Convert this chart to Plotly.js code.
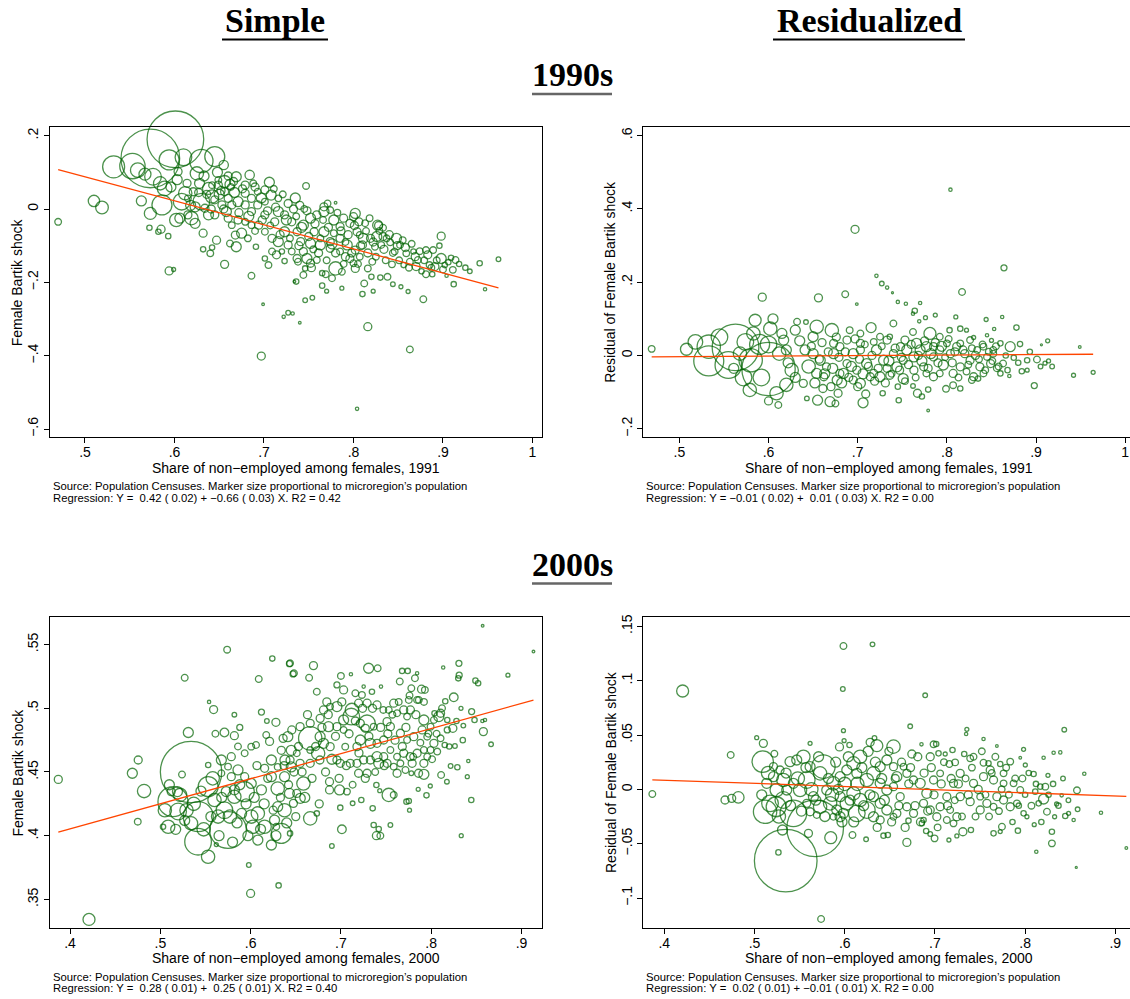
<!DOCTYPE html>
<html>
<head>
<meta charset="utf-8">
<script src="https://cdn.plot.ly/plotly-3.0.1.min.js"></script>
<style>
  html, body { margin: 0; padding: 0; background: #ffffff; overflow: hidden; }
  #chart { width: 1140px; height: 999px; }
</style>
</head>
<body>
<div id="chart"></div>
<script>
// ---------------- DATA ----------------
// Panel 1: Simple, 1990s  (x = share non-employed 1991, y = female Bartik shock, pop = microregion population, thousands)
const simple90X = [
  0.470,0.510,0.519,0.532,0.553,0.573,0.601,0.594,0.610,0.630,
  0.645,0.655,0.559,0.567,0.576,0.584,0.589,0.604,0.625,0.628,
  0.638,0.642,0.630,0.612,0.608,0.602,0.586,0.573,0.563,0.572,
  0.582,0.585,0.593,0.594,0.599,0.619,0.623,0.632,0.632,0.640,
  0.642,0.647,0.656,0.662,0.669,0.668,0.675,0.682,0.686,0.691,
  0.699,0.697,0.701,0.705,0.709,0.714,0.722,0.727,0.732,0.734,
  0.723,
  0.656,0.662,0.649,0.669,0.684,0.679,0.693,0.706,0.708,0.716,
  0.723,0.731,0.712,0.701,0.686,0.679,0.671,0.664,0.658,0.653,
  0.645,0.638,0.634,0.623,0.615,0.606,0.621,0.615,0.645,0.660,
  0.679,0.686,0.693,0.701,0.716,0.727,0.723,0.716,0.709,0.701,
  0.694,0.686,0.679,0.671,0.664,0.727,0.731,0.720,0.656,0.663,
  0.688,0.701,0.642,0.649,
  0.747,0.780,0.767,0.771,0.774,0.802,0.800,0.796,0.806,0.813,
  0.828,0.833,0.837,0.841,0.824,0.831,0.848,0.852,0.846,0.859,
  0.867,0.872,0.863,0.856,0.870,0.881,0.889,0.898,0.898,0.891,
  0.885,0.881,0.888,0.902,0.911,0.909,0.914,0.912,0.904,0.941,
  0.947,0.962,0.878,0.861,0.853,0.844,0.822,0.810,0.816,0.863,
  0.804,0.787,0.770,0.765,0.754,0.746,0.740,0.736,0.738,0.744,
  0.746,0.753,0.752,0.759,0.765,0.769,0.776,0.780,0.787,0.791,
  0.800,0.802,0.812,0.816,0.821,0.820,0.830,0.838,0.843,0.827,
  0.767,0.752,0.744,0.737,0.756,0.767,0.778,0.785,0.774,0.763,
  0.752,0.741,0.744,0.774,0.793,0.802,0.810,0.785,0.796,0.807,
  0.748,0.737,0.759,0.778,0.785,0.789,0.804,0.811,0.819,0.826,
  0.833,0.807,0.735,0.740,0.745,
  0.650,0.655,0.660,0.667,0.672,0.676,0.683,0.690,0.690,0.697,
  0.698,0.704,0.707,0.711,0.713,0.718,0.721,0.725,0.729,0.733,
  0.736,0.739,0.742,0.748,0.750,0.755,0.757,0.761,0.763,0.766,
  0.770,0.772,0.776,0.780,0.782,0.786,0.789,0.791,0.794,0.798,
  0.801,0.805,0.808,0.814,0.816,0.818,0.822,0.825,0.829,0.834,
  0.836,0.840,0.844,0.849,0.851,0.855,0.858,0.862,0.865,0.869,
  0.874,0.876,0.879,0.883,0.887,0.893,0.896,0.900,0.906,0.918,
  0.925,0.930,
  0.596,0.603,0.614,0.618,0.627,0.633,0.636,0.641,0.648,0.652,0.660,0.666
];
const simple90Y = [
  -0.035,0.022,0.004,0.115,0.117,0.138,0.190,0.134,0.141,0.131,
  0.143,0.120,0.106,0.095,0.088,0.070,0.056,0.102,0.097,0.070,
  0.056,0.034,0.020,0.043,0.020,-0.030,0.011,-0.012,0.022,-0.051,
  -0.062,-0.055,-0.074,-0.169,-0.165,-0.025,-0.039,-0.066,-0.110,-0.121,
  -0.105,-0.085,-0.151,-0.094,-0.103,-0.071,-0.066,-0.080,-0.182,-0.103,
  -0.260,-0.401,-0.135,-0.153,-0.116,-0.125,-0.294,-0.283,-0.285,-0.198,
  -0.142,
  0.075,0.067,0.065,0.088,0.093,0.065,0.047,0.073,0.038,-0.007,
  -0.016,-0.035,-0.035,-0.016,-0.007,0.011,0.020,0.011,-0.007,0.011,
  -0.016,-0.016,0.002,0.006,-0.016,-0.025,0.047,0.029,0.025,0.029,
  0.043,0.029,0.011,0.020,0.029,0.015,-0.062,-0.089,-0.080,-0.062,
  -0.044,-0.044,-0.035,-0.030,-0.044,-0.098,-0.116,-0.116,0.047,0.060,
  0.070,0.052,0.065,0.079,
  0.063,0.017,0.006,0.015,-0.003,-0.012,-0.021,-0.039,-0.035,-0.039,
  -0.045,-0.051,-0.080,-0.091,-0.103,-0.098,-0.080,-0.098,-0.116,-0.121,
  -0.116,-0.139,-0.144,-0.153,-0.157,-0.112,-0.112,-0.074,-0.135,-0.157,
  -0.153,-0.178,-0.178,-0.153,-0.166,-0.133,-0.139,-0.205,-0.182,-0.148,
  -0.219,-0.137,-0.246,-0.225,-0.212,-0.205,-0.224,-0.232,-0.321,-0.383,
  -0.545,-0.216,-0.224,-0.209,-0.242,-0.249,-0.310,-0.198,-0.144,-0.180,
  -0.162,-0.160,-0.148,-0.139,-0.175,-0.178,-0.189,-0.162,-0.171,-0.130,
  -0.148,-0.162,-0.203,-0.162,-0.144,-0.185,-0.187,-0.185,-0.151,-0.044,
  -0.007,-0.025,-0.044,-0.062,-0.062,-0.062,-0.066,-0.080,-0.089,-0.098,
  -0.094,-0.089,-0.116,-0.107,-0.098,-0.112,-0.098,-0.116,-0.135,-0.130,
  -0.135,-0.135,-0.016,-0.030,-0.048,-0.025,-0.062,-0.080,-0.080,-0.075,
  -0.075,-0.071,0.030,0.010,0.000,
  0.040,0.000,-0.025,0.045,-0.010,0.055,-0.020,0.060,-0.060,0.030,
  -0.030,-0.005,-0.045,0.055,0.005,-0.070,0.040,-0.030,-0.080,0.000,
  -0.020,-0.100,-0.050,-0.005,-0.075,-0.110,-0.040,-0.120,-0.080,-0.030,
  -0.140,-0.050,-0.095,-0.120,-0.010,-0.060,-0.150,-0.090,-0.070,-0.120,
  -0.045,-0.150,-0.100,-0.060,-0.120,-0.025,-0.090,-0.130,-0.060,-0.110,
  -0.140,-0.070,-0.120,-0.100,-0.140,-0.085,-0.105,-0.160,-0.095,-0.130,
  -0.115,-0.170,-0.140,-0.125,-0.160,-0.140,-0.100,-0.165,-0.145,-0.150,
  -0.160,-0.170,
  0.060,0.080,0.070,0.010,0.045,0.090,0.040,0.000,0.100,0.050,0.090,0.075
];
const simple90Pop = [
  200,578,722,2178,2888,15488,14450,1800,1250,2450,
  1800,392,968,648,1250,800,968,288,800,450,
  648,800,1250,800,1250,800,1800,648,450,128,
  128,288,128,288,72,800,450,288,128,200,
  128,288,288,200,450,288,450,200,200,128,
  32,288,128,200,200,288,50,98,50,32,
  128,
  648,450,288,450,392,288,200,450,450,450,
  288,288,288,288,288,288,450,288,450,288,
  288,450,288,450,288,450,288,200,288,288,
  288,288,288,200,200,288,450,450,288,200,
  288,200,200,288,200,288,200,128,288,200,
  200,288,200,200,
  200,32,288,200,200,450,288,288,288,200,
  288,200,200,200,200,200,450,200,200,200,
  128,200,200,128,288,200,200,288,450,288,
  200,200,128,128,200,128,200,128,50,128,
  50,98,200,72,72,98,72,128,288,200,
  50,72,72,128,98,98,32,128,200,200,
  128,288,288,200,128,200,200,800,200,288,
  200,288,200,200,200,128,128,200,200,450,
  450,450,450,288,288,450,200,288,288,450,
  450,288,288,288,450,288,288,200,288,200,
  450,288,288,450,288,288,288,450,288,450,
  288,200,450,288,200,
  450,288,288,450,288,288,450,288,200,450,
  288,288,200,200,288,288,200,450,200,288,
  200,288,450,288,288,200,288,288,200,200,
  200,288,450,288,200,288,200,200,288,288,
  288,200,288,200,288,200,288,200,200,288,
  200,288,200,288,200,200,288,200,200,288,
  200,128,200,288,200,200,128,200,128,128,
  128,98,
  450,450,288,450,288,450,288,288,450,288,288,288
];

// Panel 2: Residualized, 1990s
const resid90X = [
  0.804,0.697,0.864,0.721,0.727,0.733,0.739,0.817,0.686,0.656,
  0.593,0.699,0.745,0.754,0.770,0.764,0.762,0.776,0.769,0.787,
  0.810,0.844,0.862,0.853,0.878,0.850,0.845,0.906,0.913,0.949,
  0.942,0.964,0.898,0.914,0.910,0.901,0.890,0.884,0.870,0.860,
  0.890,0.875,0.871,0.860,0.882,0.830,0.469,0.508,0.518,0.533,
  0.533,0.563,0.600,0.555,0.580,0.585,0.602,0.583,0.574,0.568,
  0.561,0.579,0.600,0.611,0.609,0.626,0.620,0.617,0.630,0.632,
  0.642,0.654,0.671,0.650,0.641,0.639,0.643,0.655,0.661,0.669,
  0.675,0.678,0.706,0.709,0.728,0.746,0.745,0.751,0.762,0.767,
  0.772,0.779,0.779,0.799,0.807,0.815,0.828,0.835,0.691,0.715,
  0.703,0.725,0.740,0.736,0.753,0.762,0.781,0.792,0.803,0.815,
  0.822,0.650,0.658,0.665,0.673,0.680,0.684,0.688,0.695,0.699,
  0.703,0.710,0.718,0.721,0.729,0.733,0.740,0.744,0.751,0.755,
  0.763,0.770,0.774,0.777,0.785,0.792,0.796,0.804,0.811,0.815,
  0.820,0.826,0.834,0.837,0.845,0.849,0.852,0.856,0.863,0.654,
  0.662,0.677,0.680,0.695,0.703,0.714,0.725,0.736,0.763,0.777,
  0.785,0.792,0.807,0.822,0.830,0.841,0.673,0.688,0.703,0.718,
  0.733,0.748,0.766,0.785,0.800,0.815,0.826,0.841,0.852,
  0.600,0.612,0.622,0.630,0.635,0.645,0.648,0.652,0.657,0.660,
  0.663,0.667,0.670,0.672,0.676,0.679,0.682,0.686,0.690,0.693,
  0.697,0.700,0.702,0.706,0.708,0.712,0.716,0.719,0.723,0.727,
  0.731,0.735,0.738,0.742,0.747,0.749,0.753,0.757,0.760,0.765,
  0.768,0.772,0.775,0.779,0.782,0.787,0.790,0.794,0.798,0.802,
  0.806,0.809,0.813,0.818,0.824,0.828,0.832,0.836,0.840,0.843,
  0.847,0.851,0.855,0.858,0.866,0.868,0.880,0.893,0.905,0.918,
  0.545,0.590,0.592,0.572,0.620,0.615,0.605
];
const resid90Y = [
  0.452,0.344,0.239,0.217,0.196,0.185,0.171,0.173,0.167,0.157,
  0.159,0.140,0.146,0.141,0.143,0.122,0.114,0.103,0.093,0.110,
  0.105,0.098,0.105,0.072,0.076,0.041,0.055,0.029,0.040,0.023,
  -0.054,-0.046,-0.082,-0.015,-0.021,-0.011,-0.013,-0.043,-0.056,-0.049,
  -0.040,-0.006,0.024,0.033,0.031,0.049,0.018,0.017,0.037,0.024,
  -0.015,0.022,-0.037,-0.026,-0.013,0.096,0.073,0.060,0.037,0.005,
  -0.035,-0.094,-0.124,-0.135,-0.103,-0.040,0.015,0.042,0.069,0.092,
  0.091,0.078,0.069,0.051,0.015,-0.076,-0.117,-0.122,-0.090,-0.126,
  -0.131,-0.103,-0.129,-0.105,-0.103,-0.122,-0.085,-0.063,-0.083,-0.103,
  -0.112,-0.093,-0.150,-0.091,-0.081,-0.090,-0.067,-0.063,0.069,0.076,
  0.060,0.051,0.087,0.051,0.042,0.064,0.060,0.051,0.069,0.073,
  0.069,0.005,-0.013,-0.031,0.005,0.024,-0.049,-0.022,0.005,-0.040,
  0.015,-0.022,-0.049,0.015,-0.013,-0.035,0.005,-0.031,-0.013,0.015,
  -0.004,0.015,-0.031,0.024,-0.004,0.015,-0.026,0.005,0.024,-0.031,
  0.005,-0.013,0.015,-0.031,-0.004,-0.022,0.005,-0.035,-0.022,-0.049,
  -0.058,-0.067,-0.049,-0.067,-0.076,-0.058,-0.058,-0.054,-0.040,-0.049,
  -0.058,-0.049,-0.049,-0.044,-0.058,-0.049,0.033,0.042,0.033,0.037,
  0.042,0.024,0.033,0.024,0.033,0.033,0.042,0.024,0.015,
  0.030,0.005,-0.020,-0.060,0.040,-0.030,0.025,-0.075,-0.010,0.035,
  -0.050,0.010,-0.085,-0.035,0.050,-0.005,-0.075,0.010,-0.060,-0.030,
  0.045,-0.085,-0.010,-0.050,0.030,-0.030,0.000,-0.070,-0.035,0.025,
  -0.075,-0.015,-0.050,0.020,-0.040,-0.005,-0.070,-0.025,0.030,-0.060,
  0.000,-0.015,0.040,-0.035,0.005,0.035,-0.020,0.025,-0.005,0.045,
  -0.020,0.010,-0.060,0.015,-0.025,0.020,0.000,-0.010,0.030,-0.040,
  0.010,-0.015,0.025,-0.030,0.000,-0.040,-0.020,0.010,-0.030,-0.030,
  0.050,0.030,-0.060,-0.060,-0.080,0.060,0.100
];
const resid90Pop = [
  50,288,162,50,98,50,18,200,200,288,
  288,32,50,50,50,128,50,72,50,72,
  72,72,50,50,128,72,50,18,72,32,
  72,72,162,72,72,200,128,128,50,128,
  72,128,450,128,128,72,200,648,968,2450,
  4050,9800,12800,3200,2450,648,800,800,1250,800,
  450,800,288,200,800,800,450,450,450,200,
  98,800,800,450,450,288,98,450,288,450,
  200,288,450,288,128,128,128,450,98,288,
  128,128,32,200,200,128,200,128,200,450,
  200,200,200,128,288,200,648,200,128,128,
  72,450,450,288,450,288,450,288,450,288,
  288,450,288,450,450,288,288,450,288,450,
  450,450,288,450,288,288,450,288,288,288,
  288,288,200,288,200,288,200,200,200,450,
  288,450,288,288,450,288,450,288,288,200,
  288,200,288,200,288,200,288,288,288,200,
  288,288,450,288,200,200,200,200,200,
  1250,800,450,450,450,800,288,450,288,288,
  450,288,288,450,288,288,450,288,288,450,
  288,288,288,450,200,288,288,288,288,200,
  288,450,200,288,288,288,200,288,288,200,
  288,450,288,288,450,288,288,450,200,200,
  288,288,200,288,200,200,288,200,200,200,
  200,200,200,200,128,128,128,128,98,98,
  1250,1800,1250,1250,800,450,450
];

// Panel 3: Simple, 2000s
const simple00X = [
  0.387,0.421,0.469,0.4755,0.482,0.475,0.527,0.574,0.554,0.559,
  0.531,0.561,0.571,0.582,0.588,0.582,0.609,0.612,0.624,0.618,
  0.628,0.643,0.647,0.534,0.524,0.553,0.514,0.519,0.512,0.553,
  0.560,0.542,0.5418,0.575,0.5529,0.562,0.598,0.600,0.631,0.5087,
  0.503,0.5197,0.529,0.534,0.564,0.571,0.582,0.593,0.590,0.6007,
  0.608,0.6026,0.608,0.623,0.6155,0.6265,0.634,0.6376,0.630,0.6007,
  0.612,0.623,0.630,0.6376,0.643,0.645,0.630,0.623,0.638,0.645,
  0.634,0.6412,0.636,0.621,0.6173,0.6007,0.606,0.5934,0.586,0.5786,
  0.5676,0.575,0.586,0.5934,0.5786,0.5676,0.6155,0.6284,0.573,0.582,
  0.857,0.9133,0.885,0.8307,0.831,0.830,0.849,0.852,0.8133,0.825,
  0.8156,0.833,0.8448,0.848,0.8567,0.8596,0.8578,0.8663,0.8356,0.824,
  0.8178,0.8263,0.815,0.8215,0.829,0.8411,0.840,0.811,0.8174,0.8444,
  0.8333,0.799,0.7948,0.7856,0.7919,0.786,0.778,0.776,0.7726,0.7752,
  0.7548,0.7585,0.753,0.7393,0.743,0.7363,0.7419,0.7393,0.7437,0.7352,
  0.7226,0.713,0.7011,0.690,0.6993,0.7067,0.6985,0.6874,0.6874,0.666,
  0.6733,0.6585,0.655,0.6511,0.6474,0.6437,0.6696,0.648,0.6437,0.6648,
  0.6733,0.700,0.703,0.7111,0.7307,0.7407,0.6956,0.716,0.7233,0.7252,
  0.7344,0.7444,0.7678,0.774,0.782,0.7844,0.7652,0.7893,0.793,0.778,
  0.7844,0.7863,0.7752,0.7585,0.753,0.740,0.729,0.7196,0.7122,0.7115,
  0.703,0.6956,0.688,0.6844,0.6807,0.677,0.666,0.6548,0.6456,0.6863,
  0.6956,0.703,0.666,0.677,0.6807,0.6881,0.6748,0.6767,0.666,0.6548,
  0.6511,0.6437,0.6956,0.6993,0.7048,0.7178,0.7215,0.7289,0.7215,0.727,
  0.7363,0.7326,0.740,0.7474,0.7511,0.7548,0.7622,0.7696,0.7733,0.777,
  0.7659,0.7733,0.7807,0.790,0.7919,0.7993,0.803,0.7956,0.803,0.8067,
  0.7993,0.7919,0.7844,0.7767,0.7696,0.7622,0.7548,0.7474,0.740,0.7326,
  0.7252,0.7178,0.7104,0.7196,0.729,0.7419,0.7511,0.7585,0.7659,0.7622,
  0.7715,0.7789,0.7919,0.7956,0.8104,0.8178,0.8037,0.8085,0.8104,0.747,
  0.666,
  0.505,0.510,0.517,0.522,0.527,0.537,0.545,0.548,0.556,0.558,
  0.565,0.568,0.577,0.580,0.585,0.588,0.595,0.597,0.604,0.607,
  0.611,0.615,0.619,0.625,0.628,0.633,0.637,0.640,0.642,0.648,
  0.650,0.653,0.657,0.660,0.663,0.668,0.672,0.676,0.679,0.683,
  0.686,0.690,0.694,0.698,0.701,0.706,0.709,0.713,0.716,0.720,
  0.724,0.727,0.731,0.735,0.738,0.744,0.748,0.752,0.757,0.760,
  0.764,0.768,0.772,0.776,0.780,0.783,0.788,0.792,0.797,0.801,
  0.806,0.812,0.820,0.828,0.835
];
const simple00Y = [
  0.4442,0.3343,0.449,0.4594,0.435,0.411,0.524,0.546,0.505,0.499,
  0.481,0.480,0.481,0.495,0.485,0.4785,0.523,0.497,0.539,0.490,
  0.489,0.535,0.527,0.450,0.448,0.4555,0.4267,0.4346,0.4346,0.4385,
  0.428,0.415,0.3953,0.4045,0.3835,0.393,0.377,0.3547,0.361,0.407,
  0.407,0.419,0.420,0.4097,0.415,0.420,0.4306,0.4346,0.4175,0.415,
  0.4175,0.407,0.3966,0.3927,0.407,0.4123,0.4018,0.420,0.4228,0.441,
  0.436,0.4463,0.437,0.4463,0.4332,0.454,0.454,0.4594,0.4594,0.467,
  0.467,0.4777,0.4764,0.474,0.479,0.4699,0.4712,0.4647,0.470,0.462,
  0.4594,0.4542,0.4516,0.4463,0.4463,0.449,0.4529,0.407,0.4346,0.436,
  0.5647,0.5445,0.526,0.5353,0.526,0.5235,0.5217,0.5196,0.532,0.5086,
  0.5055,0.500,0.4974,0.4908,0.490,0.4908,0.4817,0.4717,0.4864,0.4843,
  0.483,0.4704,0.4712,0.4547,0.4537,0.4586,0.4463,0.4476,0.4424,0.428,
  0.400,0.439,0.4317,0.4364,0.4482,0.449,0.449,0.420,0.4267,0.4272,
  0.4084,0.432,0.432,0.4398,0.4353,0.4084,0.4052,0.400,0.400,0.4215,
  0.428,0.4254,0.405,0.3919,0.422,0.4346,0.4359,0.4359,0.4424,0.4136,
  0.4175,0.441,0.4293,0.4332,0.4254,0.4018,0.5335,0.5275,0.5353,0.524,
  0.513,0.5254,0.5144,0.5267,0.5314,0.5314,0.5183,0.5118,0.5105,0.517,
  0.513,0.517,0.5293,0.5293,0.5236,0.5275,0.521,0.515,0.5144,0.5157,
  0.5065,0.5065,0.5065,0.504,0.4987,0.5026,0.504,0.504,0.4987,0.4935,
  0.4908,0.5013,0.5013,0.505,0.4987,0.4921,0.4882,0.4856,0.483,0.4856,
  0.4856,0.483,0.4764,0.4777,0.4725,0.4699,0.4647,0.4594,0.4568,0.4568,
  0.4647,0.4594,0.4594,0.4568,0.4699,0.4699,0.4751,0.4882,0.4882,0.4843,
  0.4856,0.4725,0.4725,0.4751,0.4895,0.4856,0.4961,0.4987,0.4935,0.4987,
  0.4804,0.4751,0.4777,0.483,0.4908,0.4856,0.4908,0.4777,0.4725,0.466,
  0.4673,0.4673,0.4647,0.462,0.4647,0.462,0.4673,0.462,0.462,0.4594,
  0.4594,0.4568,0.4568,0.449,0.449,0.4568,0.4568,0.4542,0.4568,0.449,
  0.4516,0.4568,0.4568,0.462,0.4764,0.4908,0.4961,0.4935,0.4961,0.4987,
  0.4672,
  0.420,0.440,0.405,0.432,0.412,0.425,0.435,0.405,0.415,0.445,
  0.400,0.430,0.415,0.395,0.410,0.440,0.425,0.400,0.430,0.455,
  0.405,0.425,0.445,0.420,0.400,0.430,0.455,0.410,0.440,0.450,
  0.415,0.470,0.450,0.430,0.495,0.445,0.470,0.425,0.485,0.450,
  0.495,0.460,0.478,0.445,0.505,0.455,0.480,0.440,0.490,0.465,
  0.500,0.445,0.478,0.500,0.450,0.485,0.455,0.480,0.495,0.475,
  0.505,0.470,0.485,0.510,0.462,0.495,0.473,0.505,0.480,0.460,
  0.480,0.500,0.470,0.490,0.475
];
const simple00Pop = [
  288,648,450,288,800,200,200,200,50,288,
  450,200,338,98,162,288,200,162,128,98,
  288,162,162,16928,200,128,4050,450,288,1800,
  800,4050,3200,6050,800,72,98,288,128,800,
  128,1250,800,800,800,1250,800,1800,450,800,
  800,800,450,450,800,450,1800,800,450,450,
  450,450,800,450,450,450,200,450,450,450,
  288,450,288,288,200,200,200,200,200,288,
  450,200,450,288,288,200,288,200,450,450,
  32,32,72,162,162,128,128,128,50,338,
  128,72,162,128,50,50,288,98,98,288,
  162,98,128,98,128,50,72,200,98,128,
  72,72,128,72,450,288,98,72,128,128,
  98,200,800,128,72,128,128,288,200,128,
  128,98,338,98,128,200,450,288,288,800,
  128,800,450,288,288,128,288,200,200,200,
  200,200,288,50,450,200,162,200,200,50,
  128,50,128,128,200,50,200,288,200,200,
  200,200,200,288,200,288,288,288,800,1250,
  450,450,200,288,288,288,288,288,288,450,
  288,200,2450,450,450,288,800,288,288,288,
  200,288,288,288,200,288,450,1250,288,288,
  200,450,288,288,288,288,200,288,200,288,
  288,200,288,288,450,200,200,200,288,200,
  200,200,288,288,288,200,200,288,450,288,
  288,288,288,288,288,450,288,200,200,288,
  200,288,288,200,200,128,128,450,288,200,
  200,
  800,450,450,800,450,800,450,800,450,800,
  450,450,800,450,450,450,450,450,450,288,
  450,450,288,288,450,288,288,450,288,288,
  288,288,288,450,288,288,288,288,288,288,
  288,450,288,288,288,288,288,200,288,288,
  288,288,288,288,200,288,288,288,200,288,
  200,288,288,200,200,288,200,200,200,200,
  200,200,128,128,128
];

// Panel 4: Residualized, 2000s
const resid00X = [
  0.3867,0.4203,0.4673,0.4747,0.4821,0.4736,0.5024,0.5098,0.522,0.5616,
  0.5091,0.521,0.5135,0.5117,0.5172,0.524,0.532,0.5431,0.532,0.5394,
  0.5468,0.5542,0.5616,0.5764,0.5727,0.5579,0.5672,0.5346,0.531,0.5265,
  0.5598,0.5845,0.5738,0.5986,0.6308,0.5979,0.6892,0.5986,0.5993,0.6726,
  0.7354,0.7346,0.8434,0.7539,0.7687,0.7983,0.8316,0.839,0.8205,0.8656,
  0.8575,0.8841,0.9122,0.8567,0.8124,0.8297,0.8297,0.8101,0.792,0.7743,
  0.765,0.7724,0.8582,0.8538,0.8482,0.8445,0.8327,0.6689,0.643,0.6478,
  0.6237,0.6086,0.6903,0.6948,0.6996,0.7155,0.7243,0.731,0.7399,0.7206,
  0.6855,0.6874,0.6707,0.6541,0.6356,0.6282,0.633,0.5942,0.6053,0.6985,
  0.7014,0.6851,0.6744,0.6948,0.704,0.7114,0.7195,0.716,0.7224,0.7325,
  0.7391,0.7428,0.7539,0.7594,0.7724,0.7835,0.7946,0.8002,0.8094,0.8253,
  0.8224,0.8168,0.8112,0.8205,0.815,0.8242,0.8349,0.8405,0.7909,0.7983,
  0.802,0.7835,0.7761,0.7687,0.765,0.7576,0.7502,0.7502,0.7391,0.7428,
  0.7539,0.765,0.7761,0.7872,0.7946,0.7761,0.7613,0.728,0.7206,0.728,
  0.7132,0.7058,0.7169,0.7243,0.7132,0.7021,0.6948,0.6874,0.691,0.6837,
  0.6985,0.7058,0.6763,0.6689,0.6652,0.6578,0.6541,0.6615,0.6689,0.6763,
  0.6578,0.6467,0.6393,0.6319,0.6245,0.6134,0.6171,0.6097,0.6023,0.5949,
  0.5912,0.5986,0.5838,0.5801,0.5875,0.5949,0.6023,0.6097,0.6171,0.6134,
  0.6245,0.6319,0.6393,0.6467,0.6393,0.6467,0.6541,0.6319,0.6393,0.6541,
  0.5949,0.5727,0.5653,0.5579,0.5505,0.5431,0.5357,0.5246,0.521,0.5283,
  0.5616,0.569,0.5875,
  0.508,0.515,0.527,0.535,0.540,0.548,0.552,0.557,0.563,0.568,
  0.571,0.578,0.582,0.586,0.590,0.593,0.597,0.600,0.604,0.606,
  0.610,0.614,0.619,0.621,0.626,0.628,0.634,0.636,0.641,0.644,
  0.649,0.652,0.656,0.660,0.663,0.667,0.671,0.673,0.678,0.681,
  0.684,0.688,0.692,0.696,0.699,0.703,0.707,0.710,0.714,0.718,
  0.722,0.726,0.730,0.734,0.737,0.741,0.745,0.748,0.752,0.756,
  0.760,0.763,0.767,0.771,0.774,0.779,0.782,0.786,0.789,0.793,
  0.797,0.800,0.804,0.807,0.812,0.818,0.826,0.831,0.837,0.842,
  0.848
];
const resid00Y = [
  -0.0043,0.0905,-0.0098,-0.0083,-0.0074,0.0316,0.0475,0.0423,0.0328,0.0423,
  0.0255,0.0209,0.0055,-0.0206,-0.0129,-0.016,-0.0098,-0.0221,0.0086,0.0255,
  0.027,0.030,0.0209,0.0209,0.0147,0.0086,-0.0359,-0.0656,-0.0374,-0.058,
  -0.0405,-0.0445,-0.1193,0.1319,0.1334,0.0923,0.0865,0.054,0.0448,0.058,
  0.0552,0.0509,0.0549,0.0463,0.0399,0.0368,0.0337,0.034,0.0291,0.0144,
  -0.0009,-0.0215,-0.054,-0.0718,-0.0574,-0.0497,-0.039,-0.0325,-0.038,-0.0344,
  -0.0405,-0.0389,-0.0184,-0.0282,-0.0221,-0.0245,-0.0252,-0.0488,-0.0426,-0.042,
  -0.046,-0.042,-0.0383,-0.0411,-0.0451,-0.0466,-0.0429,-0.039,-0.0374,-0.0313,
  -0.0313,-0.0282,-0.0288,0.0393,0.0402,0.0433,0.0472,0.039,0.0408,0.0414,
  0.0417,0.0414,0.0325,0.030,0.0331,0.0325,0.0362,0.0233,0.0248,0.0325,
  0.0285,0.030,0.0245,0.0239,0.0233,0.0255,0.0291,0.0224,0.0141,0.0129,
  0.0025,0.0025,-0.0021,-0.0089,-0.0129,-0.0206,-0.0135,-0.0055,-0.0129,-0.0221,
  -0.0252,-0.016,-0.0098,-0.0067,-0.016,-0.0129,-0.019,-0.0067,-0.0113,0.0055,
  0.0117,0.0086,0.0055,0.0055,-0.0006,0.0147,0.0178,0.0147,0.0055,-0.0067,
  -0.0067,-0.016,-0.019,-0.0252,-0.0282,-0.0252,-0.019,-0.0129,-0.0037,0.0055,
  0.0086,0.0147,0.0086,0.0147,0.0209,0.0117,0.0025,-0.0067,-0.016,-0.0221,
  -0.0221,-0.019,-0.0129,-0.0067,-0.019,-0.0221,-0.0098,-0.0037,-0.0129,-0.0067,
  -0.019,-0.0221,-0.0129,-0.0006,0.0055,0.0117,0.0178,0.0239,0.030,0.0147,
  0.0086,0.0147,0.0209,0.027,0.0055,-0.0006,0.0209,-0.0252,-0.0282,-0.0252,
  -0.0252,-0.016,-0.0067,-0.0129,-0.0006,0.0055,-0.0006,-0.0006,0.0117,0.0178,
  -0.0206,-0.0236,-0.0252,
  -0.005,0.015,-0.025,0.015,-0.015,0.010,-0.020,0.020,0.000,-0.010,
  0.030,-0.025,0.010,-0.005,0.025,0.000,-0.030,0.005,0.030,-0.010,
  -0.030,0.005,0.020,-0.015,0.035,-0.005,0.025,-0.035,0.010,-0.010,
  0.035,-0.030,0.010,-0.015,0.025,-0.035,0.005,0.020,-0.015,0.030,
  -0.030,0.015,-0.020,0.020,-0.005,-0.035,0.005,0.025,-0.015,0.010,
  -0.010,0.005,-0.025,0.010,-0.005,0.020,-0.025,0.000,0.035,-0.005,
  -0.025,0.015,0.030,-0.020,0.000,0.020,-0.005,-0.030,0.010,-0.015,
  0.010,-0.005,0.015,-0.015,0.005,-0.030,-0.005,0.005,-0.015,0.010,
  -0.010
];
const resid00Pop = [
  200,648,288,288,578,200,72,288,200,72,
  2048,288,450,2450,1250,1800,1250,3200,800,450,
  450,800,450,2450,800,1250,14450,17672,450,128,
  288,648,200,200,98,98,98,72,72,98,
  72,50,98,50,32,72,50,50,50,50,
  200,50,32,18,50,200,128,72,128,200,
  128,72,98,50,72,128,72,288,128,128,
  98,200,128,98,200,72,72,288,128,200,
  128,128,128,800,648,288,98,288,128,200,
  128,50,288,288,128,72,128,200,200,128,
  200,200,200,128,128,200,32,72,128,72,
  200,128,128,450,128,200,72,50,200,128,
  72,288,288,288,200,288,288,200,288,288,
  288,288,200,200,200,200,288,288,288,288,
  288,288,200,288,200,288,288,288,450,450,
  288,200,288,288,200,450,288,288,288,288,
  288,450,450,450,1250,1250,800,800,800,450,
  450,450,800,450,800,450,450,800,800,450,
  800,800,450,450,450,450,288,450,288,200,
  450,800,450,288,800,450,450,800,450,288,
  288,200,200,
  450,800,800,450,450,800,450,450,800,450,
  450,450,450,800,450,450,450,800,450,450,
  450,800,450,450,450,450,450,288,450,450,
  288,288,288,288,288,288,288,288,288,288,
  288,288,288,288,288,200,288,200,288,288,
  200,288,200,200,288,200,200,288,200,200,
  200,200,200,200,200,200,200,128,200,128,
  200,128,128,200,128,128,128,128,128,98,
  98
];

// Fitted lines (intercept, slope) as drawn in each panel
const fitIntercept = [0.416, -0.0106, 0.3265, 0.0200];
const fitSlope     = [-0.656, 0.0144, 0.197, -0.029];

// Tick values / labels
const xTicks90 = [0.5, 0.6, 0.7, 0.8, 0.9, 1];
const xLabels90 = ['.5', '.6', '.7', '.8', '.9', '1'];
const xTicks00 = [0.4, 0.5, 0.6, 0.7, 0.8, 0.9];
const xLabels00 = ['.4', '.5', '.6', '.7', '.8', '.9'];
const yTicksSimple90 = [-0.6, -0.4, -0.2, 0, 0.2];
const yLabelsSimple90 = ['\u2212.6', '\u2212.4', '\u2212.2', '0', '.2'];
const yTicksResid90 = [-0.2, 0, 0.2, 0.4, 0.6];
const yLabelsResid90 = ['\u2212.2', '0', '.2', '.4', '.6'];
const yTicksSimple00 = [0.35, 0.4, 0.45, 0.5, 0.55];
const yLabelsSimple00 = ['.35', '.4', '.45', '.5', '.55'];
const yTicksResid00 = [-0.1, -0.05, 0, 0.05, 0.1, 0.15];
const yLabelsResid00 = ['\u2212.1', '\u2212.05', '0', '.05', '.1', '.15'];

// Texts
const columnTitles = ['Simple', 'Residualized'];
const rowTitles = ['1990s', '2000s'];
const xTitles = ['Share of non\u2212employed among females, 1991', 'Share of non\u2212employed among females, 2000'];
const yTitles = ['Female Bartik shock', 'Residual of Female Bartik shock'];
const sourceNote = 'Source: Population Censuses. Marker size proportional to microregion\u2019s population';
const regressionNotes = [
  'Regression: Y =  0.42 ( 0.02) + \u22120.66 ( 0.03) X. R2 = 0.42',
  'Regression: Y = \u22120.01 ( 0.02) +  0.01 ( 0.03) X. R2 = 0.00',
  'Regression: Y =  0.28 ( 0.01) +  0.25 ( 0.01) X. R2 = 0.40',
  'Regression: Y =  0.02 ( 0.01) + \u22120.01 ( 0.01) X. R2 = 0.00'
];

// ---------------- LAYOUT / DRAWING ----------------
const W = 1140, H = 999;
const fx = p => p / W;
const fy = p => 1 - p / H;
const GREEN = 'rgb(0,100,0)';
const RED = 'rgb(255,69,0)';
const SANS = 'Liberation Sans, Arial, Helvetica, sans-serif';
const SERIF = 'Liberation Serif, Times New Roman, serif';

const panels = [
  {x: simple90X, y: simple90Y, pop: simple90Pop, xa: 'x',  ya: 'y'},
  {x: resid90X,  y: resid90Y,  pop: resid90Pop,  xa: 'x2', ya: 'y2'},
  {x: simple00X, y: simple00Y, pop: simple00Pop, xa: 'x3', ya: 'y3'},
  {x: resid00X,  y: resid00Y,  pop: resid00Pop,  xa: 'x4', ya: 'y4'}
];

const traces = [];
panels.forEach((p) => {
  traces.push({
    type: 'scatter', mode: 'markers', x: p.x, y: p.y, xaxis: p.xa, yaxis: p.ya,
    cliponaxis: false, hoverinfo: 'skip',
    marker: {symbol: 'circle-open', color: GREEN, size: p.pop, sizemode: 'area', sizeref: 9,
             line: {color: GREEN, width: 1.3}}
  });
});
panels.forEach((p, i) => {
  const xs = [Math.min(...p.x), Math.max(...p.x)];
  traces.push({
    type: 'scatter', mode: 'lines', x: xs, y: xs.map(v => fitIntercept[i] + fitSlope[i] * v),
    xaxis: p.xa, yaxis: p.ya, hoverinfo: 'skip', cliponaxis: false,
    line: {color: RED, width: 1.3}
  });
});

function axisBase(extra) {
  return Object.assign({
    showline: true, mirror: true, linecolor: '#000', linewidth: 1,
    ticks: 'outside', ticklen: 5, tickwidth: 1, tickcolor: '#000',
    showgrid: false, zeroline: false, fixedrange: true,
    tickmode: 'array', tickfont: {family: SANS, size: 14, color: '#000'}
  }, extra);
}

const xDomL = [fx(50), fx(541.7)], xDomR = [fx(643.3), fx(1134.8)];
const yDomT = [fy(437.3), fy(127.3)], yDomB = [fy(927.7), fy(617.3)];

const layout = {
  width: W, height: H, margin: {l: 0, r: 0, t: 0, b: 0},
  paper_bgcolor: '#fff', plot_bgcolor: '#fff', showlegend: false,
  xaxis:  axisBase({domain: xDomL, range: [0.4609, 1.0103], anchor: 'y',  tickvals: xTicks90, ticktext: xLabels90, ticklabelstandoff: -3}),
  yaxis:  axisBase({domain: yDomT, range: [-0.6226, 0.2228], anchor: 'x', tickvals: yTicksSimple90, ticktext: yLabelsSimple90, tickangle: -90}),
  xaxis2: axisBase({domain: xDomR, range: [0.4596, 1.0107], anchor: 'y2', tickvals: xTicks90, ticktext: xLabels90, ticklabelstandoff: -3}),
  yaxis2: axisBase({domain: yDomT, range: [-0.2231, 0.622], anchor: 'x2', tickvals: yTicksResid90, ticktext: yLabelsResid90, tickangle: -90}),
  xaxis3: axisBase({domain: xDomL, range: [0.3778, 0.9224], anchor: 'y3', tickvals: xTicks00, ticktext: xLabels00, ticklabelstandoff: -3}),
  yaxis3: axisBase({domain: yDomB, range: [0.3278, 0.5714], anchor: 'x3', tickvals: yTicksSimple00, ticktext: yLabelsSimple00, tickangle: -90}),
  xaxis4: axisBase({domain: xDomR, range: [0.3767, 0.9216], anchor: 'y4', tickvals: xTicks00, ticktext: xLabels00, ticklabelstandoff: -3}),
  yaxis4: axisBase({domain: yDomB, range: [-0.1273, 0.1583], anchor: 'x4', tickvals: yTicksResid00, ticktext: yLabelsResid00, tickangle: -90}),
  annotations: [],
  shapes: []
};

function note(text, x, y, opts) {
  layout.annotations.push(Object.assign({
    text: text, x: fx(x), y: fy(y), xref: 'paper', yref: 'paper', showarrow: false,
    xanchor: 'center', yanchor: 'middle', borderpad: 0,
    font: {family: SANS, size: 14, color: '#000'}
  }, opts || {}));
}
function uline(x0, x1, y, color, w) {
  layout.shapes.push({type: 'line', xref: 'paper', yref: 'paper',
    x0: fx(x0), x1: fx(x1), y0: fy(y), y1: fy(y), line: {color: color, width: w}});
}

// Column and row titles
const titleFont = {family: SERIF, size: 34, color: '#000', weight: 'bold'};
note(columnTitles[0], 274.5, 21, {font: titleFont});
note(columnTitles[1], 869, 21, {font: titleFont});
note(rowTitles[0], 572, 75, {font: titleFont});
note(rowTitles[1], 572, 564.5, {font: titleFont});
uline(222, 328, 39.5, '#000', 2);
uline(773, 965, 39.5, '#000', 2);
uline(532, 612, 94, '#666', 2.5);
uline(532, 612, 583.5, '#666', 2.5);

// Axis titles and notes
const colCenter = [(50 + 541.7) / 2, (643.3 + 1134.8) / 2];
const rowXTitleY = [467.5, 958];
const rowCenter = [(127.3 + 437.3) / 2, (617.3 + 927.7) / 2];
const yTitleX = [17, 610.5];
for (let r = 0; r < 2; r++) {
  for (let c = 0; c < 2; c++) {
    note(xTitles[r], colCenter[c], rowXTitleY[r]);
    note(yTitles[c], yTitleX[c], rowCenter[r], {textangle: -90});
    const left = c === 0 ? 51.5 : 645;
    note(sourceNote, left, rowXTitleY[r] + 19, {xanchor: 'left', font: {family: SANS, size: 11.3, color: '#000'}});
    note(regressionNotes[r * 2 + c], left, rowXTitleY[r] + 30, {xanchor: 'left', font: {family: SANS, size: 11.3, color: '#000'}});
  }
}

Plotly.newPlot('chart', traces, layout, {displayModeBar: false, staticPlot: true});
</script>
</body>
</html>
